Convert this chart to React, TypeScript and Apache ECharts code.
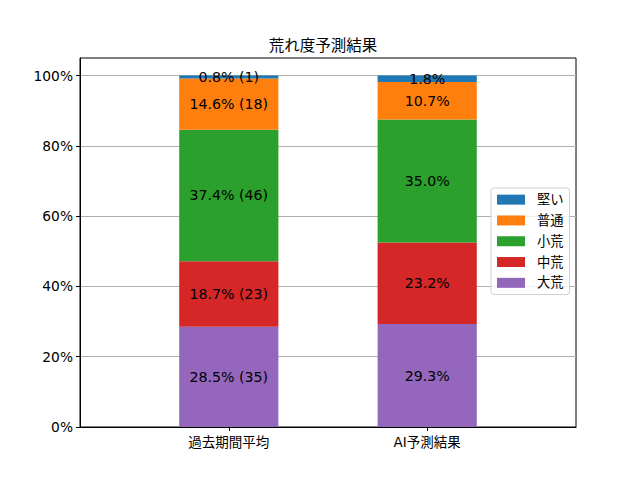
import React, { useEffect, useRef } from "react";
import * as echarts from "echarts";

const categories = ["", "過去期間平均", "", "AI予測結果", ""];
const seriesNames = ["大荒", "中荒", "小荒", "普通", "堅い"];
const seriesColors = ["#9467bd", "#d62728", "#2ca02c", "#ff7f0e", "#1f77b4"];
const pastValues = [28.5, 18.7, 37.4, 14.6, 0.8];
const pastCounts = [35, 23, 46, 18, 1];
const aiValues = [29.3, 23.2, 35.0, 10.7, 1.8];
const yTicks = [0, 20, 40, 60, 80, 100];
const legendOrder = ["堅い", "普通", "小荒", "中荒", "大荒"];

const FONT = "'DejaVu Sans', 'Noto Sans CJK JP', sans-serif";

export default function App() {
  const ref = useRef<HTMLDivElement>(null);
  useEffect(() => {
    if (!ref.current) return;
    const chart = echarts.init(ref.current, undefined, { renderer: "svg" });
    const series = seriesNames.map((name, i) => ({
      name,
      type: "bar",
      stack: "total",
      barWidth: "100%",
      itemStyle: { color: seriesColors[i] },
      label: {
        show: true,
        position: "inside",
        color: "#000",
        fontSize: 14.2,
        fontFamily: FONT,
      },
      data: [
        null,
        {
          value: pastValues[i],
          label: { formatter: `${pastValues[i].toFixed(1)}% (${pastCounts[i]})` },
        },
        null,
        {
          value: aiValues[i],
          label: { formatter: `${aiValues[i].toFixed(1)}%` },
        },
        null,
      ],
    }));
    chart.setOption({
      animation: false,
      textStyle: { fontFamily: FONT },
      title: {
        text: "荒れ度予測結果",
        left: 318,
        top: 33,
        textAlign: "center",
        textStyle: { fontSize: 15.5, fontWeight: "normal", color: "#000", fontFamily: FONT },
      },
      grid: {
        left: 80,
        right: 64,
        top: 58,
        bottom: 53,
        show: true,
        borderColor: "#000",
        borderWidth: 1,
        backgroundColor: "transparent",
      },
      legend: {
        data: legendOrder,
        orient: "vertical",
        left: 491,
        top: 188,
        itemWidth: 28,
        itemHeight: 10,
        itemGap: 7.5,
        padding: [5, 6, 5, 6],
        borderColor: "#d0d0d0",
        borderWidth: 1,
        borderRadius: 3,
        backgroundColor: "rgba(255,255,255,0.8)",
        icon: "rect",
        textStyle: { fontSize: 13.3, color: "#000", fontFamily: FONT, padding: [0, 0, 0, 7] },
      },
      xAxis: {
        type: "category",
        data: categories,
        axisLine: { show: true, lineStyle: { color: "#000" } },
        axisTick: {
          show: true,
          alignWithLabel: true,
          length: 4,
          lineStyle: { color: "#000" },
          interval: (idx: number) => idx === 1 || idx === 3,
        },
        axisLabel: {
          interval: 0,
          color: "#000",
          fontSize: 13.5,
          margin: 8,
          fontFamily: FONT,
        },
        splitLine: { show: false },
      },
      yAxis: {
        type: "value",
        min: 0,
        max: 105,
        interval: 20,
        axisLine: { show: true, lineStyle: { color: "#000" } },
        axisTick: {
          show: true,
          length: 4,
          lineStyle: { color: "#000" },
          customValues: yTicks,
        },
        axisLabel: {
          color: "#000",
          fontSize: 13.8,
          margin: 7,
          fontFamily: FONT,
          customValues: yTicks,
          formatter: (v: number) => `${v}%`,
        },
        splitLine: { show: true, lineStyle: { color: "#b0b0b0", width: 1 } },
      },
      series,
    });
    return () => chart.dispose();
  }, []);
  return (
    <div
      ref={ref}
      style={{ position: "fixed", left: 0, top: 0, width: 640, height: 480, background: "#fff" }}
    />
  );
}
